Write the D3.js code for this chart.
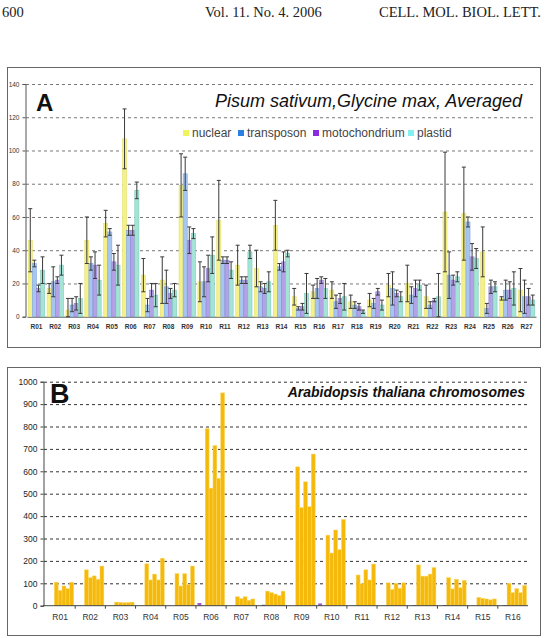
<!DOCTYPE html>
<html><head><meta charset="utf-8">
<script src="https://cdnjs.cloudflare.com/ajax/libs/d3/7.8.5/d3.min.js"></script>
<style>html,body{margin:0;padding:0;background:#fff;}svg{display:block;}</style>
</head><body>
<script>
// ---------- Panel A data ----------
const catsA = ["R01","R02","R03","R04","R05","R06","R07","R08","R09","R10","R11","R12","R13","R14","R15","R16","R17","R18","R19","R20","R21","R22","R23","R24","R25","R26","R27"];
const seriesA = ["nuclear","transposon","motochondrium","plastid"];
const nuclear      = [46,17,4,46,56,107,25,22,79,21,58,31,29,55,12,15,16,9,10,19,20,12,63,62,39,11,16];
const nuclearErr   = [19,3,7,14,8,18,10,14,19,12,24,12,11,15,5,4,5,4,4,7,11,7,36,28,15,1,13];
const transposon   = [32,21,7,32,51,52,7,18,86,21,34,22,18,30,5,17,9,7,8,17,13,7,25,57,5,16,12];
const transErr     = [2,9,4,4,2,3,4,10,10,9,2,2,3,2,1,6,4,2,3,10,5,2,14,3,3,6,10];
const mito         = [17,22,8,31,33,52,16,14,46,29,34,22,17,33,6,22,11,6,15,14,17,10,22,36,18,16,12];
const mitoErr      = [2,2,4,8,5,3,4,3,8,8,2,2,3,6,2,2,3,2,2,2,5,1,3,8,4,5,5];
const plastid      = [28,31,11,22,31,76,13,16,50,37,28,39,21,38,14,17,12,3,7,12,19,12,24,35,18,17,10];
const plastidErr   = [8,6,9,9,12,5,7,4,3,11,5,4,6,2,12,6,8,1,3,3,3,14,3,6,3,10,3];
const ticksA = [0,20,40,60,80,100,120,140];

// ---------- Panel B data ----------
const catsB = ["R01","R02","R03","R04","R05","R06","R07","R08","R09","R10","R11","R12","R13","R14","R15","R16"];
const slotsB = ["mito","chloro","chr1","chr2","chr3","chr4","chr5"];
const bMito   = [0,0,0,0,0,12,0,0,0,10,0,0,0,0,0,0];
const bChloro = [0,0,0,0,0,0,0,4,0,0,0,0,3,3,0,3];
const chr1 = [105,160,16,187,143,790,40,65,620,315,137,102,182,125,37,100];
const chr2 = [68,125,15,115,88,525,32,58,438,235,98,72,132,75,33,58];
const chr3 = [88,133,13,141,143,715,40,52,553,338,160,100,132,118,30,76];
const chr4 = [76,118,14,115,95,568,24,45,442,250,115,78,141,80,26,58];
const chr5 = [105,177,16,212,177,950,30,65,677,385,186,102,170,113,30,90];
const ticksB = [0,100,200,300,400,500,600,700,800,900,1000];

const W = 549, H = 638;
const svg = d3.select("body").append("svg").attr("width", W).attr("height", H);

// header
const hdr = svg.append("g").attr("font-family","'Liberation Serif','Times New Roman',serif").attr("font-size",14.5).attr("fill","#222");
hdr.append("text").attr("x",2).attr("y",17).text("600");
hdr.append("text").attr("x",205).attr("y",17).text("Vol. 11. No. 4. 2006");
hdr.append("text").attr("x",541).attr("y",17).attr("text-anchor","end").text("CELL. MOL. BIOL. LETT.");

// frames
svg.append("rect").attr("x",7.5).attr("y",67.5).attr("width",533).attr("height",280).attr("fill","none").attr("stroke","#666");
svg.append("rect").attr("x",7.5).attr("y",367.5).attr("width",533).attr("height",268).attr("fill","none").attr("stroke","#666");

// ================= Panel A =================
const yA = d3.scaleLinear().domain([0,140]).range([316.7,84]);
const xA = d3.scaleBand().domain(catsA).range([27,536]).paddingInner(0.13).paddingOuter(0.065);
const xAi = d3.scaleBand().domain(seriesA).range([0,xA.bandwidth()]);
const fillA = {"nuclear":"#f4f08a","transposon":"#a6c6ef","motochondrium":"#b4a2e6","plastid":"#a4e4d6"};
const strokeA = {"nuclear":"#e6e070","transposon":"#7fa8e0","motochondrium":"#9580d6","plastid":"#7ccab8"};
const legA = {"nuclear":"#f2f25a","transposon":"#2a7fe0","motochondrium":"#8a2be2","plastid":"#80f0f0"};
const valsA = {"nuclear":nuclear,"transposon":transposon,"motochondrium":mito,"plastid":plastid};
const errsA = {"nuclear":nuclearErr,"transposon":transErr,"motochondrium":mitoErr,"plastid":plastidErr};

const gA = svg.append("g");
// grid
gA.append("g").selectAll("line").data(ticksA.filter(d=>d>0)).join("line")
  .attr("x1",26).attr("x2",536).attr("y1",d=>yA(d)+0.5).attr("y2",d=>yA(d)+0.5)
  .attr("stroke","#777").attr("stroke-width",1).attr("stroke-dasharray","3,3");
// y axis
const axA = gA.append("g").attr("transform","translate(25.5,0)")
  .call(d3.axisLeft(yA).tickValues(ticksA).tickSize(3).tickFormat(d3.format("d")));
axA.select(".domain").attr("stroke","#555");
axA.selectAll(".tick line").attr("stroke","#555");
axA.selectAll("text").attr("font-family","Arial, 'Liberation Sans', sans-serif").attr("font-size",6.5).attr("fill","#333");
// x axis
const axAx = gA.append("g").attr("transform","translate(0,316.7)")
  .call(d3.axisBottom(xA).tickSize(0).tickPadding(8));
axAx.select(".domain").attr("stroke","#555");
axAx.selectAll("text").attr("font-family","Arial, 'Liberation Sans', sans-serif").attr("font-size",6.5).attr("fill","#333").attr("font-weight","bold");

// bars
seriesA.forEach(s=>{
  const g = gA.append("g");
  g.selectAll("rect").data(catsA).join("rect")
    .attr("x",(c)=>xA(c)+xAi(s))
    .attr("width",xAi.bandwidth())
    .attr("y",(c,i)=>yA(valsA[s][i]))
    .attr("height",(c,i)=>yA(0)-yA(valsA[s][i]))
    .attr("fill",fillA[s]).attr("stroke",strokeA[s]).attr("stroke-width",0.6);
});
// error bars
seriesA.forEach(s=>{
  const g = gA.append("g").attr("stroke","#3a3a3a").attr("stroke-width",1);
  catsA.forEach((c,i)=>{
    const v = valsA[s][i], e = errsA[s][i];
    const cx = xA(c)+xAi(s)+xAi.bandwidth()/2;
    const lo = Math.max(0,v-e), hi = v+e;
    g.append("line").attr("x1",cx).attr("x2",cx).attr("y1",yA(lo)).attr("y2",yA(hi));
    g.append("line").attr("x1",cx-2).attr("x2",cx+2).attr("y1",yA(hi)).attr("y2",yA(hi));
    g.append("line").attr("x1",cx-2).attr("x2",cx+2).attr("y1",yA(lo)).attr("y2",yA(lo));
  });
});
// title A
gA.append("text").attr("x",36).attr("y",110.5).attr("font-family","Arial, 'Liberation Sans', sans-serif")
  .attr("font-weight","bold").attr("font-size",24).attr("fill","#111").text("A");
gA.append("text").attr("x",522).attr("y",106.5).attr("text-anchor","end")
  .attr("font-family","Arial, 'Liberation Sans', sans-serif").attr("font-style","italic").attr("font-size",18)
  .attr("fill","#111").text("Pisum sativum,Glycine max, Averaged");
// legend A
const legX = {"nuclear":183,"transposon":238,"motochondrium":313,"plastid":408};
const legG = gA.append("g").attr("font-family","Arial, 'Liberation Sans', sans-serif").attr("font-size",12).attr("fill","#444");
seriesA.forEach(s=>{
  legG.append("rect").attr("x",legX[s]).attr("y",130).attr("width",6).attr("height",6).attr("fill",legA[s]);
  legG.append("text").attr("x",legX[s]+9).attr("y",136.5).text(s);
});

// ================= Panel B =================
const yB = d3.scaleLinear().domain([0,1000]).range([605.7,381.7]);
const xB = d3.scaleBand().domain(catsB).range([45,528]).paddingInner(0.1).paddingOuter(0.05);
const xBi = d3.scaleBand().domain(slotsB).range([0,xB.bandwidth()]);
const gB = svg.append("g");
gB.append("g").selectAll("line").data(ticksB.filter(d=>d>0)).join("line")
  .attr("x1",44).attr("x2",528).attr("y1",d=>yB(d)+0.5).attr("y2",d=>yB(d)+0.5)
  .attr("stroke","#333").attr("stroke-width",1).attr("stroke-dasharray","3,3");
const axB = gB.append("g").attr("transform","translate(43.5,0)")
  .call(d3.axisLeft(yB).tickValues(ticksB).tickSize(3).tickPadding(3).tickFormat(d3.format("d")));
axB.select(".domain").attr("stroke","#444");
axB.selectAll(".tick line").attr("stroke","#444");
axB.selectAll("text").attr("font-family","Arial, 'Liberation Sans', sans-serif").attr("font-size",8.5).attr("fill","#222");

const bSeries = {"chr1":chr1,"chr2":chr2,"chr3":chr3,"chr4":chr4,"chr5":chr5,"mito":bMito,"chloro":bChloro};
const bFill = {"chr1":"#f5b90c","chr2":"#f5b90c","chr3":"#f5b90c","chr4":"#f5b90c","chr5":"#f5b90c","mito":"#9a5bd0","chloro":"#3d3f9a"};
slotsB.forEach(s=>{
  gB.append("g").selectAll("rect").data(catsB).join("rect")
    .attr("x",c=>xB(c)+xBi(s))
    .attr("width",xBi.bandwidth())
    .attr("y",(c,i)=>yB(bSeries[s][i]))
    .attr("height",(c,i)=>yB(0)-yB(bSeries[s][i]))
    .attr("fill",bFill[s])
    .attr("stroke",s.startsWith("chr")?"#fcd860":"none").attr("stroke-width",0.5);
});
// x axis B with boundary ticks
const axBx = gB.append("g").attr("transform","translate(0,605.7)");
axBx.append("line").attr("x1",43).attr("x2",528).attr("stroke","#444");
axBx.selectAll("line.bt").data(catsB.slice(1)).join("line").attr("class","bt")
  .attr("x1",c=>xB(c)-xB.step()*xB.paddingInner()/2).attr("x2",c=>xB(c)-xB.step()*xB.paddingInner()/2)
  .attr("y1",0).attr("y2",3).attr("stroke","#444");
axBx.selectAll("text").data(catsB).join("text")
  .attr("x",c=>xB(c)+xB.bandwidth()/2).attr("y",14).attr("text-anchor","middle")
  .attr("font-family","Arial, 'Liberation Sans', sans-serif").attr("font-size",8.5).attr("fill","#333").text(c=>c);

gB.append("text").attr("x",50).attr("y",402.5).attr("font-family","Arial, 'Liberation Sans', sans-serif")
  .attr("font-weight","bold").attr("font-size",27).attr("fill","#111").text("B");
gB.append("text").attr("x",525).attr("y",397).attr("text-anchor","end")
  .attr("font-family","Arial, 'Liberation Sans', sans-serif").attr("font-style","italic").attr("font-weight","bold")
  .attr("font-size",14).attr("fill","#111").text("Arabidopsis thaliana chromosomes");
</script>
</body></html>
